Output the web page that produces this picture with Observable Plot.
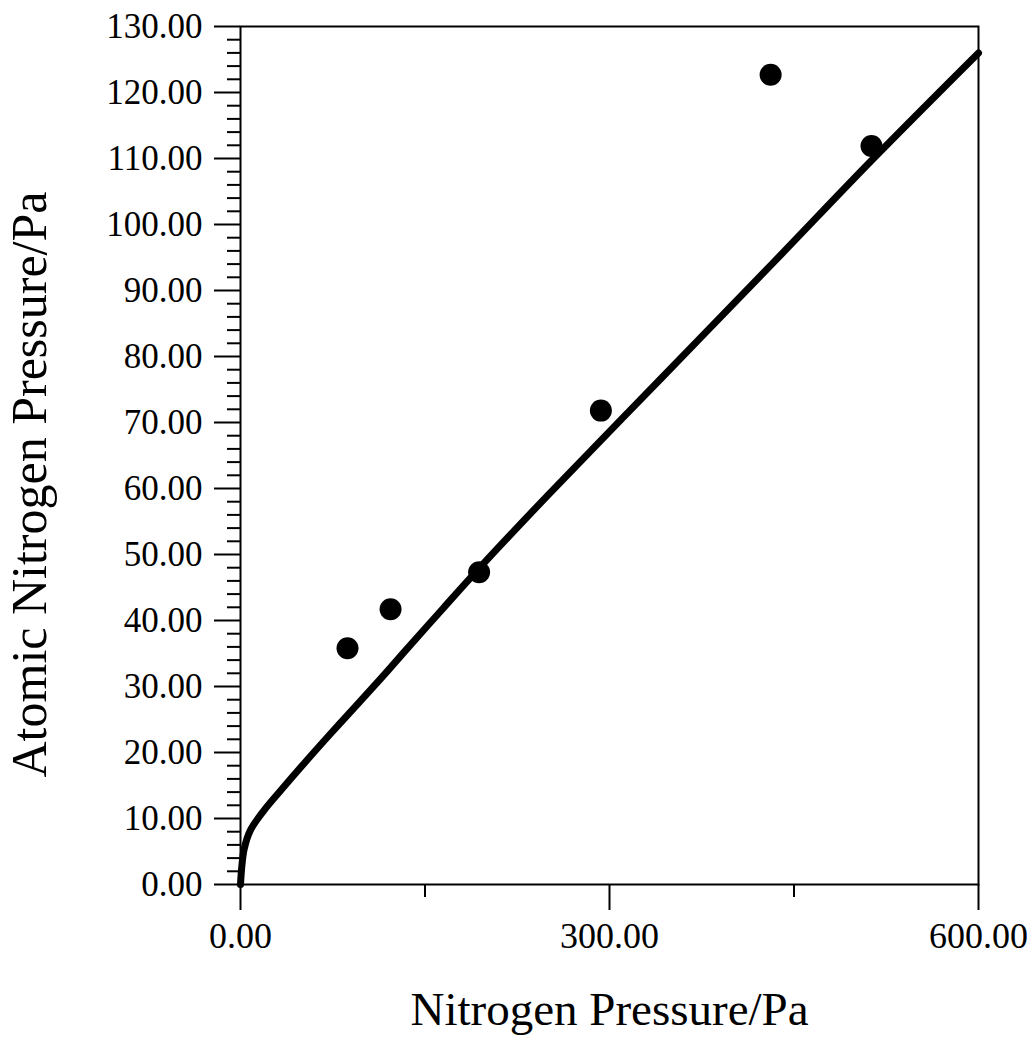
<!DOCTYPE html>
<html>
<head>
<meta charset="utf-8">
<script src="https://cdn.jsdelivr.net/npm/d3@7"></script>
<script src="https://cdn.jsdelivr.net/npm/@observablehq/plot@0.6"></script>
<style>
  html, body { margin: 0; padding: 0; background: #fff; }
  #chart { width: 1035px; height: 1048px; }
</style>
</head>
<body>
<div id="chart"></div>
<script>
// Measured data points (Nitrogen pressure / Pa vs atomic nitrogen pressure / Pa)
const pointX = [87, 122, 194, 293, 431, 513];
const pointY = [35.8, 41.7, 47.3, 71.8, 122.7, 111.9];

// Fitted curve
const curveX = [0, 1, 3, 8, 19, 32.5, 51.5, 73, 95, 114, 133, 165, 194, 250, 341.5, 433.6, 513, 600];
const curveY = [0, 2.6, 5.4, 8.2, 11.2, 14.2, 18.3, 22.8, 27.3, 31.2, 35.2, 41.9, 47.9, 59.0, 76.6, 94.3, 109.7, 126];

// Tick values
const yMajor = [0, 10, 20, 30, 40, 50, 60, 70, 80, 90, 100, 110, 120, 130];
const yMinor = [2, 4, 6, 8, 12, 14, 16, 18, 22, 24, 26, 28, 32, 34, 36, 38, 42, 44, 46, 48, 52, 54, 56, 58, 62, 64, 66, 68, 72, 74, 76, 78, 82, 84, 86, 88, 92, 94, 96, 98, 102, 104, 106, 108, 112, 114, 116, 118, 122, 124, 126, 128];
const xMajor = [0, 300, 600];
const xMinor = [150, 450];

const xTitle = "Nitrogen Pressure/Pa";
const yTitle = "Atomic Nitrogen Pressure/Pa";

const points = pointX.map((x, i) => ({x, y: pointY[i]}));
const curve = curveX.map((x, i) => ({x, y: curveY[i]}));

const font = "'Liberation Serif', 'Times New Roman', serif";

const chart = Plot.plot({
  width: 1035,
  height: 1048,
  marginLeft: 240,
  marginRight: 57,
  marginTop: 26,
  marginBottom: 164,
  style: {fontFamily: font, color: "#000", background: "#fff"},
  x: {domain: [0, 600]},
  y: {domain: [0, 130]},
  marks: [
    Plot.frame({stroke: "#000", strokeWidth: 2}),
    Plot.axisY({ticks: yMajor, tickSize: 26, tickPadding: 12, tickFormat: d => d.toFixed(2), fontSize: 35, label: null, strokeWidth: 2}),
    Plot.axisY({ticks: yMinor, tickSize: 13, tickFormat: () => "", label: null, strokeWidth: 2}),
    Plot.axisX({ticks: xMajor, tickSize: 26, tickPadding: 12, tickFormat: d => d.toFixed(2), fontSize: 36, label: null, strokeWidth: 2}),
    Plot.axisX({ticks: xMinor, tickSize: 13, tickFormat: () => "", label: null, strokeWidth: 2}),
    Plot.line(curve, {x: "x", y: "y", curve: "catmull-rom", stroke: "#000", strokeWidth: 7, strokeLinecap: "round"}),
    Plot.dot(points, {x: "x", y: "y", r: 11, fill: "#000", stroke: "none"}),
    Plot.text([xTitle], {frameAnchor: "bottom", text: d => d, dy: 140, fontSize: 47, fill: "#000"}),
    Plot.text([yTitle], {frameAnchor: "left", text: d => d, rotate: -90, textAnchor: "middle", lineAnchor: "middle", dx: -211, dy: 29, fontSize: 50, fill: "#000"})
  ]
});
document.getElementById("chart").appendChild(chart);
</script>
</body>
</html>
